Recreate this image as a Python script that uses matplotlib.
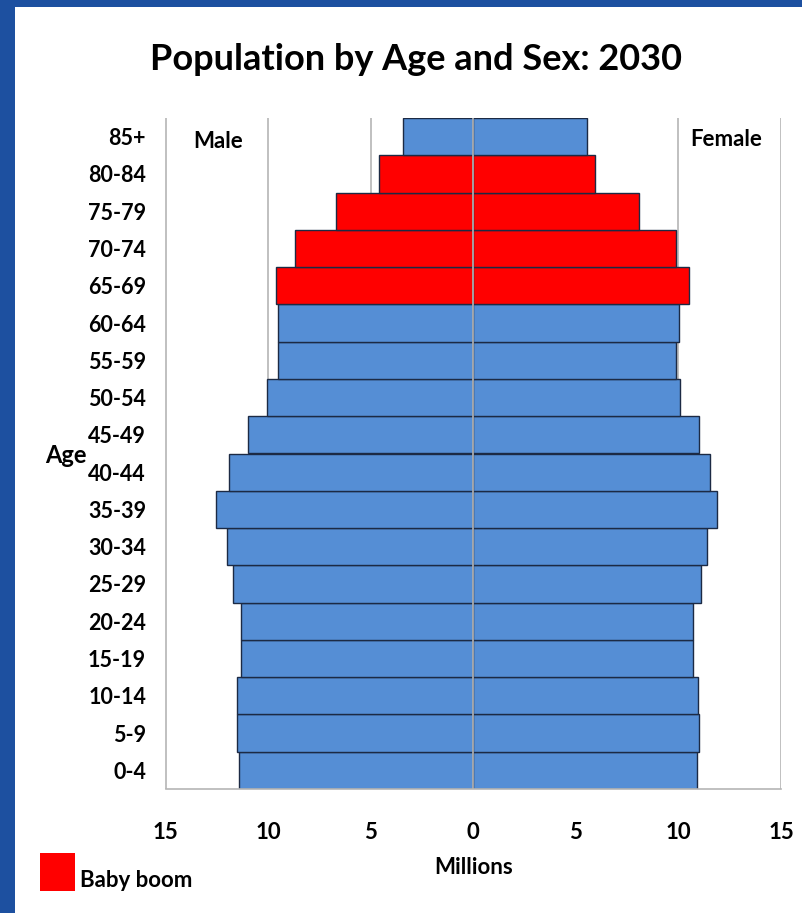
import matplotlib
matplotlib.use("Agg")
import matplotlib.pyplot as plt
from matplotlib.patches import Rectangle
import numpy as np

# age groups, bottom to top
ages = ['0-4', '5-9', '10-14', '15-19', '20-24', '25-29', '30-34', '35-39', '40-44',
        '45-49', '50-54', '55-59', '60-64', '65-69', '70-74', '75-79', '80-84', '85+']
# millions
male = [11.4, 11.5, 11.5, 11.3, 11.3, 11.7, 12.0, 12.55, 11.9,
        11.0, 10.05, 9.5, 9.5, 9.6, 8.7, 6.7, 4.6, 3.4]
female = [10.9, 11.0, 10.95, 10.7, 10.7, 11.1, 11.4, 11.9, 11.55,
          11.0, 10.1, 9.9, 10.05, 10.5, 9.9, 8.1, 5.95, 5.55]
baby_boom = ['65-69', '70-74', '75-79', '80-84']
xticks = [-15, -10, -5, 0, 5, 10, 15]

W, H = 803, 913
plt.rcParams['font.family'] = ['Lato', 'DejaVu Sans']
plt.rcParams['font.weight'] = 'bold'

blue = '#558ed5'
red = '#ff0000'
edge = '#1c2a44'
colors = [red if a in baby_boom else blue for a in ages]

fig = plt.figure(figsize=(W / 100, H / 100), dpi=100)
fig.patch.set_facecolor('#1d50a0')
# white slide panel inside the blue frame
fig.add_artist(Rectangle((15 / W, 0), 1 - 15 / W, 1 - 7 / H, transform=fig.transFigure,
                         facecolor='white', edgecolor='none', zorder=0))


def px(x, y):
    return x / W, 1 - y / H


ax = fig.add_axes([165.5 / W, (H - 789) / H, (781 - 165.5) / W, (789 - 118) / H])
ax.set_facecolor('none')
y = np.arange(len(ages))
ax.barh(y, [-m for m in male], height=1.0, color=colors, edgecolor=edge, linewidth=1, zorder=2)
ax.barh(y, female, height=1.0, color=colors, edgecolor=edge, linewidth=1, zorder=2)
for xv in xticks:
    ax.axvline(xv, color='#b5b5b5', linewidth=1.2, zorder=1 if xv != 0 else 3)
ax.set_xlim(-15, 15)
ax.set_ylim(-0.5, len(ages) - 0.5)
ax.set_yticks(y)
ax.set_yticklabels(ages, fontsize=15.5, fontweight='bold')
ax.set_xticks(xticks)
ax.set_xticklabels([str(abs(v)) for v in xticks], fontsize=16, fontweight='bold')
ax.tick_params(length=0)
ax.tick_params(axis='y', pad=14)
ax.tick_params(axis='x', pad=24)
for s in ['top', 'right', 'left']:
    ax.spines[s].set_visible(False)
ax.spines['bottom'].set_color('#b5b5b5')
ax.spines['bottom'].set_linewidth(1.2)

fig.text(*px(416, 60), 'Population by Age and Sex: 2030', fontsize=26, fontweight='bold',
         ha='center', va='center')
fig.text(*px(193, 141), 'Male', fontsize=16, fontweight='bold', ha='left', va='center')
fig.text(*px(690, 139), 'Female', fontsize=16, fontweight='bold', ha='left', va='center')
fig.text(*px(45, 455), 'Age', fontsize=17, fontweight='bold', ha='left', va='center')
fig.text(*px(474, 867), 'Millions', fontsize=16, fontweight='bold', ha='center', va='center')
fig.add_artist(Rectangle(px(40, 891), 35 / W, 38 / H, transform=fig.transFigure,
                         facecolor=red, edgecolor='none'))
fig.text(*px(80, 880), 'Baby boom', fontsize=16, fontweight='bold', ha='left', va='center')

fig.savefig('out.png', dpi=100, facecolor=fig.get_facecolor())
